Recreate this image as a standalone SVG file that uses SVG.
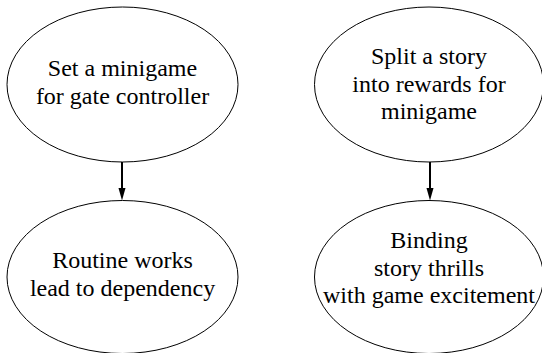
<svg xmlns="http://www.w3.org/2000/svg" width="542" height="353" viewBox="0 0 542 353">
<defs>
<style>
.n ellipse{fill:#fff;stroke:#000;stroke-width:1}
.n text{font-family:"Liberation Serif","Times New Roman",serif;font-size:24px;fill:#000;text-anchor:middle}
.e line{stroke:#000;stroke-width:2}
.e polygon{fill:#000}
</style>
</defs>
<rect width="542" height="353" fill="#fff"/>
<g id="edges" class="e">
<line x1="122" y1="162" x2="122" y2="189"/>
<polygon points="118.5,188 125.5,188 122,200.5"/>
<line x1="430" y1="162" x2="430" y2="189"/>
<polygon points="426.5,188 433.5,188 430,200.5"/>
</g>
<g id="n1" class="n">
<ellipse cx="122.5" cy="84.5" rx="115.5" ry="77.5"/>
<text x="122.5" y="76">Set a minigame</text>
<text x="122.5" y="104">for gate controller</text>
</g>
<g id="n2" class="n">
<ellipse cx="122.5" cy="277" rx="115.5" ry="76.5"/>
<text x="122.5" y="268">Routine works</text>
<text x="122.5" y="296">lead to dependency</text>
</g>
<g id="n3" class="n">
<ellipse cx="429" cy="84.5" rx="114.5" ry="77.5"/>
<text x="429" y="64">Split a story</text>
<text x="429" y="91.5">into rewards for</text>
<text x="429" y="119">minigame</text>
</g>
<g id="n4" class="n">
<ellipse cx="429" cy="277" rx="114.5" ry="76.5"/>
<text x="429" y="248">Binding</text>
<text x="429" y="276">story thrills</text>
<text x="429" y="303">with game excitement</text>
</g>
</svg>
